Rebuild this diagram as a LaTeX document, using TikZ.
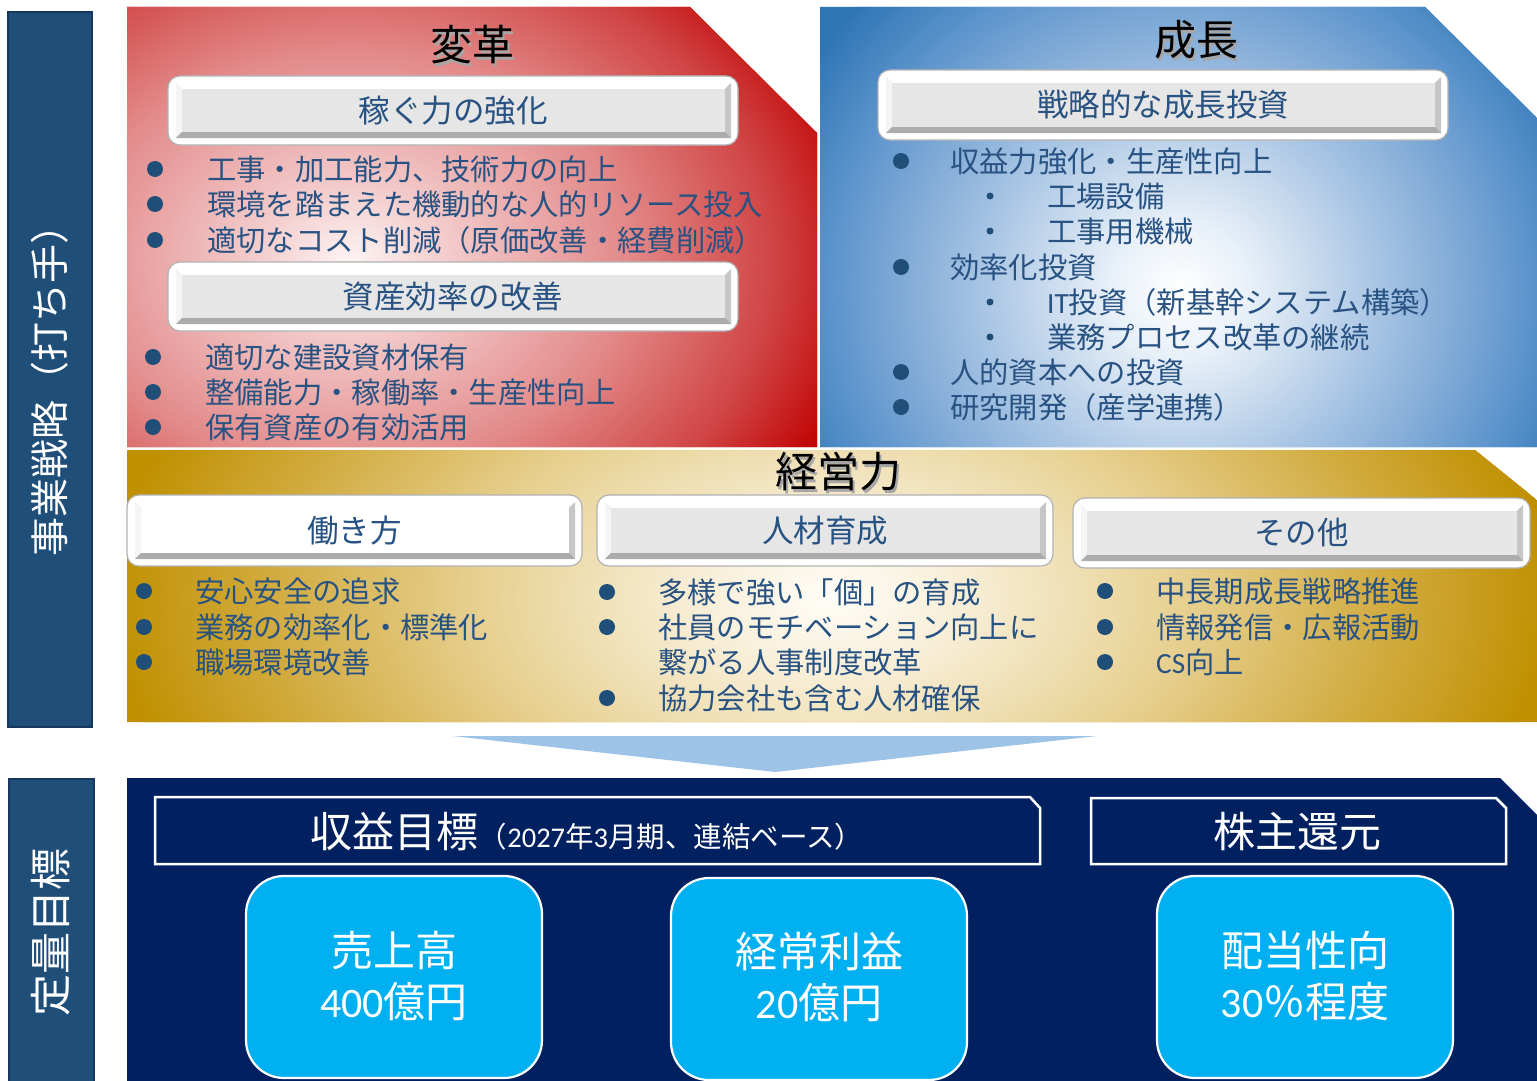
\documentclass[tikz,border=0pt]{standalone}
\usepackage{fontspec}
\setmainfont{Noto Sans CJK JP}
\newfontfamily\jp{Noto Sans CJK JP}
\newfontfamily\lat{Carlito}
\definecolor{txtblue}{HTML}{285282}
\definecolor{dotblue}{HTML}{1F4E79}
\definecolor{barblue}{HTML}{1F4E79}
\definecolor{barborder}{HTML}{17375E}
\definecolor{navy}{HTML}{002060}
\definecolor{cyanbox}{HTML}{00B0F0}
\definecolor{arrowblue}{HTML}{9DC3E6}
\definecolor{facegray}{HTML}{E6E6E6}
\definecolor{redA}{HTML}{FDF3F3}
\definecolor{redB}{HTML}{F2C8C8}
\definecolor{redC}{HTML}{E38A8A}
\definecolor{redD}{HTML}{D04444}
\definecolor{redE}{HTML}{C00000}
\definecolor{bluA}{HTML}{FFFFFF}
\definecolor{bluB}{HTML}{E8F0F8}
\definecolor{bluC}{HTML}{9DBDE0}
\definecolor{bluD}{HTML}{5B93CB}
\definecolor{bluE}{HTML}{2E75B6}
\definecolor{golA}{HTML}{FFFDF8}
\definecolor{golB}{HTML}{F7EDD4}
\definecolor{golC}{HTML}{E6CF8E}
\definecolor{golD}{HTML}{D0A838}
\definecolor{golE}{HTML}{BF9000}
\pgfdeclareradialshading{redsh}{\pgfpoint{0bp}{0bp}}{color(0bp)=(redA); color(5bp)=(redB); color(13bp)=(redC); color(20bp)=(redD); color(25bp)=(redE); color(50bp)=(redE)}
\pgfdeclareradialshading{blush}{\pgfpoint{0bp}{0bp}}{color(0bp)=(bluA); color(4bp)=(bluB); color(12.5bp)=(bluC); color(20bp)=(bluD); color(25bp)=(bluE); color(50bp)=(bluE)}
\pgfdeclareradialshading{golsh}{\pgfpoint{0bp}{0bp}}{color(0bp)=(golA); color(5bp)=(golB); color(12.5bp)=(golC); color(20bp)=(golD); color(25bp)=(golE); color(50bp)=(golE)}
\tikzset{
  bt/.style={font=\fontsize{29.3}{35}\selectfont, text=txtblue, anchor=west, inner sep=0pt},
  btntext/.style={font=\fontsize{31.5}{36}\selectfont, text=txtblue, inner sep=0pt},
  ttl/.style={font=\fontsize{42}{48}\selectfont, text=black, inner sep=0pt},
  ttlshadow/.style={font=\fontsize{42}{48}\selectfont, text=black!35, inner sep=0pt},
  bigdot/.style={fill=dotblue},
  hdr/.style={draw=white, line width=2.5pt},
  hdrtext/.style={font=\fontsize{42}{48}\selectfont, text=white, inner sep=0pt},
  kpi/.style={fill=cyanbox, draw=white, line width=2.2pt, rounded corners=38pt},
  kpitext/.style={font=\fontsize{42}{51}\selectfont, text=white, align=center, inner sep=0pt},
  sidebar/.style={fill=barblue, draw=barborder, line width=2pt},
  sidetext/.style={text=white, rotate=90, inner sep=0pt}
}
% button: name, x1, y1, x2, y2, text, face colour
\newcommand\btn[7]{%
  \draw[draw=gray!60, fill=white, line width=1.2pt, rounded corners=12pt] (#2,#3) rectangle (#4,#5);
  \fill[gray!55] ({#2+8},{#3+7}) rectangle ({#4-7},{#5-7});
  \fill[white] ({#2+8},{#3+7}) -- ({#4-7},{#3+7}) -- ({#4-13},{#3+13}) -- ({#2+14},{#3+13}) -- cycle;
  \fill[gray!8] ({#2+8},{#3+7}) -- ({#2+14},{#3+13}) -- ({#2+14},{#5-13}) -- ({#2+8},{#5-7}) -- cycle;
  \fill[gray!45] ({#4-7},{#3+7}) -- ({#4-7},{#5-7}) -- ({#4-13},{#5-13}) -- ({#4-13},{#3+13}) -- cycle;
  \fill[gray!65] ({#2+8},{#5-7}) -- ({#4-7},{#5-7}) -- ({#4-13},{#5-13}) -- ({#2+14},{#5-13}) -- cycle;
  \fill[#7] ({#2+14},{#3+13}) rectangle ({#4-13},{#5-13});
  \node[btntext] (#1) at ({(#2+#4)/2},{(#3+#5)/2}) {#6};
}
% bullet: name, dot x, text x, y, text, dot radius
\newcommand\bul[6]{%
  \fill[bigdot] (#2,#4) circle[radius=#6];
  \node[bt] (#1) at (#3,#4) {#5};
}
\begin{document}
\begin{tikzpicture}[x=1pt,y=-1pt]
\useasboundingbox (0,0) rectangle (1537,1081);
\fill[white] (0,0) rectangle (1537,1081);

% side bars
\draw[sidebar] (8,12) rectangle (92,727);
\node[sidetext, font=\fontsize{39}{44}\selectfont] (side1) at (50,381) {事業戦略（打ち手）};
\draw[sidebar] (9,779) rectangle (94,1090);
\node[sidetext, font=\fontsize{42}{48}\selectfont] (side2) at (51,932) {定量目標};

% red panel
\begin{scope}
\clip (127,7) -- (690,7) -- (817,133) -- (817,447) -- (127,447) -- cycle;
\fill[redE] (100,0) rectangle (830,460);
\shade[shading=redsh] (350,260) ellipse [x radius=530, y radius=400];
\end{scope}
\node[ttlshadow] at (474.5,47.5) {変革};
\node[ttl] (t1) at (472,45) {変革};
\btn{b1}{168}{76}{738}{145}{稼ぐ力の強化}{facegray}
\bul{r1}{155}{207}{169}{工事・加工能力、技術力の向上}{8}
\bul{r2}{155}{207}{204}{環境を踏まえた機動的な人的リソース投入}{8}
\bul{r3}{155}{207}{240}{適切なコスト削減（原価改善・経費削減）}{8}
\btn{b2}{168}{262}{738}{331}{資産効率の改善}{facegray}
\bul{r4}{153}{205}{357}{適切な建設資材保有}{8}
\bul{r5}{153}{205}{392}{整備能力・稼働率・生産性向上}{8}
\bul{r6}{153}{205}{427}{保有資産の有効活用}{8}

% blue panel
\begin{scope}
\clip (820,7) -- (1425,7) -- (1537,118) -- (1537,447) -- (820,447) -- cycle;
\fill[bluE] (800,0) rectangle (1540,460);
\shade[shading=blush] (1180,290) ellipse [x radius=440, y radius=420];
\end{scope}
\node[ttlshadow] at (1198.5,42.5) {成長};
\node[ttl] (t2) at (1196,40) {成長};
\btn{b3}{878}{70}{1448}{140}{戦略的な成長投資}{facegray}
\bul{g1}{901}{950}{161}{収益力強化・生産性向上}{8}
\bul{g2}{990}{1047}{196}{工場設備}{3.5}
\bul{g3}{990}{1047}{231}{工事用機械}{3.5}
\bul{g4}{901}{950}{267}{効率化投資}{8}
\bul{g5}{990}{1047}{302}{{\lat IT}投資（新基幹システム構築）}{3.5}
\bul{g6}{990}{1047}{337}{業務プロセス改革の継続}{3.5}
\bul{g7}{901}{950}{372}{人的資本への投資}{8}
\bul{g8}{901}{950}{407}{研究開発（産学連携）}{8}

% gold panel
\begin{scope}
\clip (127,450) -- (1475,450) -- (1537,500) -- (1537,722) -- (127,722) -- cycle;
\fill[golE] (100,440) rectangle (1540,730);
\shade[shading=golsh] (830,597) ellipse [x radius=720, y radius=420];
\end{scope}
\node[ttlshadow] at (840.5,474.5) {経営力};
\node[ttl] (t3) at (838,472) {経営力};
\btn{b4}{127}{495}{582}{566}{働き方}{white}
\btn{b5}{597}{495}{1053}{566}{人材育成}{facegray}
\btn{b6}{1073}{498}{1530}{568}{その他}{facegray}
\bul{k1}{144}{195}{591}{安心安全の追求}{8}
\bul{k2}{144}{195}{627}{業務の効率化・標準化}{8}
\bul{k3}{144}{195}{662}{職場環境改善}{8}
\bul{h1}{607}{658}{592}{多様で強い「個」の育成}{8}
\bul{h2}{607}{658}{627}{社員のモチベーション向上に}{8}
\node[bt] (h2b) at (658,662) {繋がる人事制度改革};
\bul{h3}{607}{658}{698}{協力会社も含む人材確保}{8}
\bul{o1}{1105}{1156}{591}{中長期成長戦略推進}{8}
\bul{o2}{1105}{1156}{627}{情報発信・広報活動}{8}
\bul{o3}{1105}{1156}{662}{{\lat CS}向上}{8}

% arrow
\coordinate (al) at (453,736);
\coordinate (ar) at (1097,736);
\coordinate (ap) at (775,772);
\fill[arrowblue] (al) -- (ar) -- (ap) -- cycle;

% bottom panel
\fill[navy] (127,778) -- (1500,778) -- (1537,815) -- (1537,1090) -- (127,1090) -- cycle;
\draw[hdr] (155,797) -- (1030,797) -- (1040,808) -- (1040,864) -- (155,864) -- cycle;
\node[hdrtext] (hd1) at (587,832) {収益目標\fontsize{28.5}{30}\selectfont（{\lat 2027}年{\lat 3}月期、連結ベース）};
\draw[hdr] (1091,798) -- (1496,798) -- (1506,808) -- (1506,864) -- (1091,864) -- cycle;
\node[hdrtext] (hd2) at (1297,832) {株主還元};

\draw[kpi] (246,876) rectangle (542,1078);
\node[kpitext] (k1t) at (394,976) {売上高\\{\lat 400}億円};
\draw[kpi] (671,878) rectangle (967,1080);
\node[kpitext] (k2t) at (819,977) {経常利益\\{\lat 20}億円};
\draw[kpi] (1157,876) rectangle (1453,1078);
\node[kpitext] (k3t) at (1305,976) {配当性向\\{\lat 30}％程度};
\end{tikzpicture}
\end{document}
